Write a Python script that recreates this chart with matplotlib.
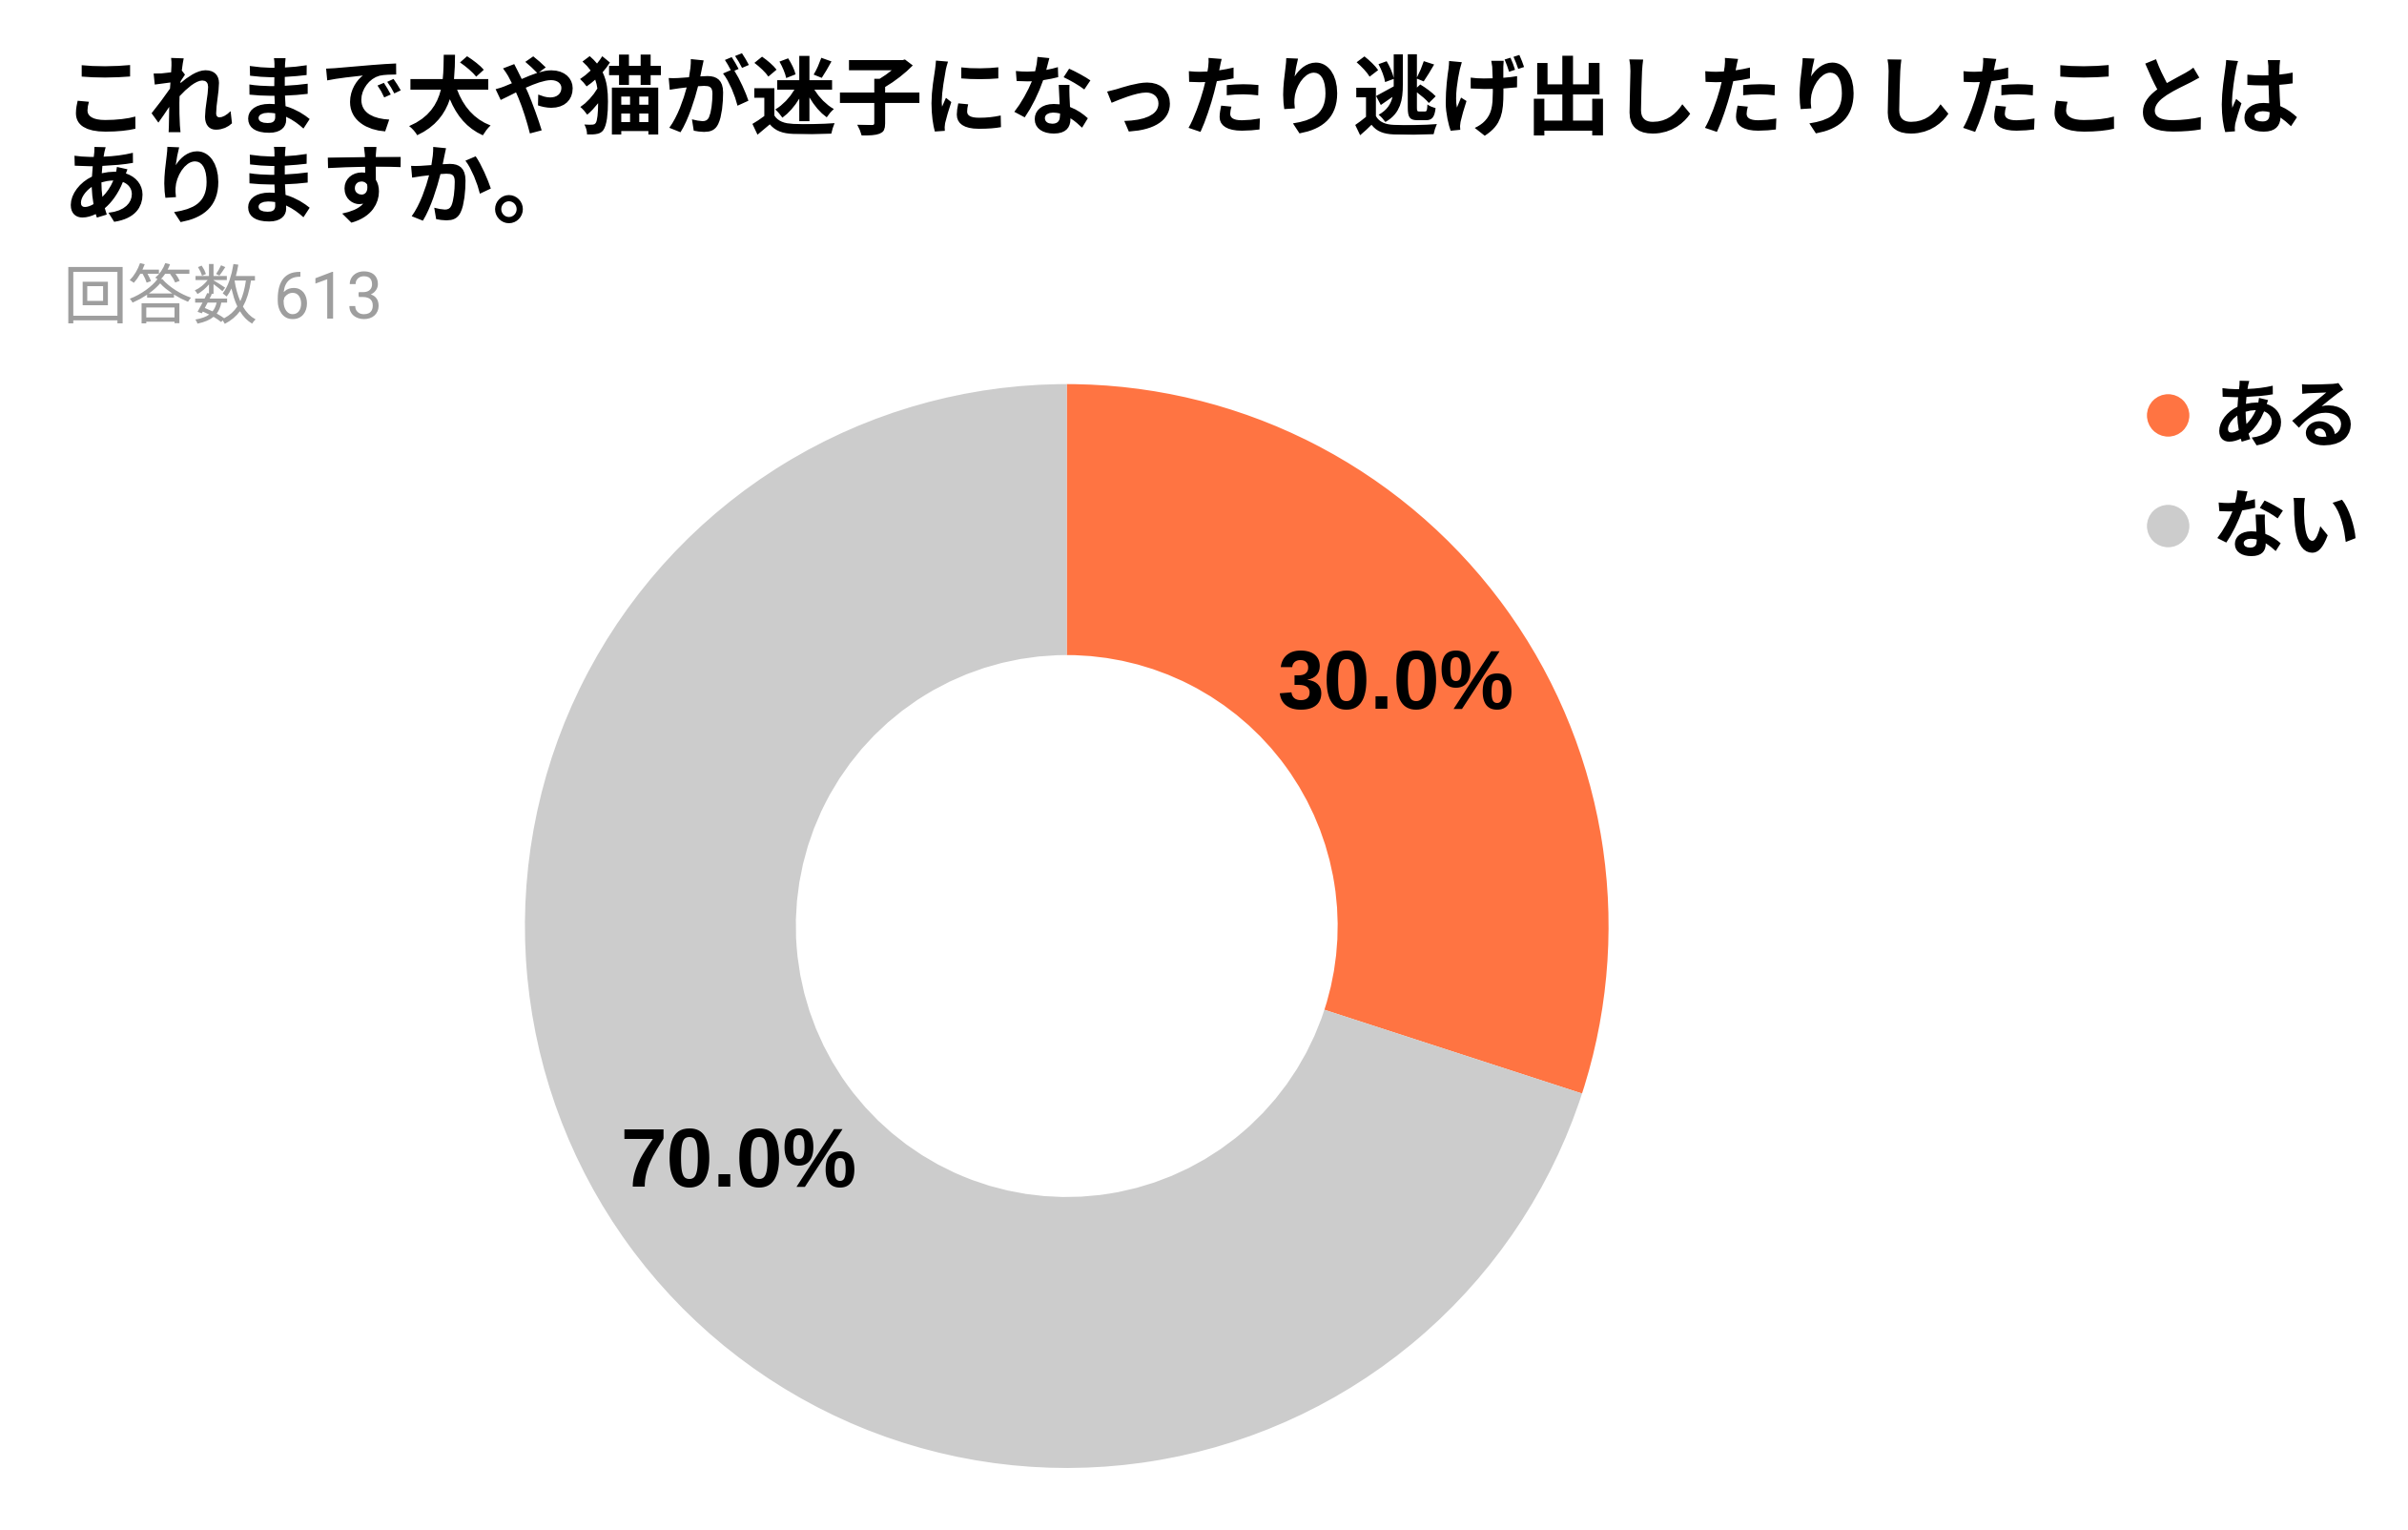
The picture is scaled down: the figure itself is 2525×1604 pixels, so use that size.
import matplotlib
matplotlib.use('Agg')
import matplotlib.pyplot as plt
import numpy as np
from matplotlib.lines import Line2D

plt.rcParams['font.family'] = ['Noto Sans CJK JP', 'DejaVu Sans']

title = 'これまで犬や猫が迷子になったり逃げ出したりしたことは\nありますか。'
subtitle = '回答数 613'
labels = ['ある', 'ない']
values = [30.0, 70.0]
colors = ['#FF7442', '#CCCCCC']


def main():
    fig = plt.figure(figsize=(25.25, 16.04), dpi=100)
    fig.patch.set_facecolor('white')

    fig.text(0.026, 0.962, title, fontsize=65, fontweight='bold',
             va='top', ha='left', linespacing=1.03, color='black')
    fig.text(0.026, 0.804, subtitle, fontsize=49, color='#9E9E9E',
             va='center', ha='left', family=['Roboto', 'Noto Sans CJK JP'])

    # donut, center around (1120, 970) px, radius ~568 px
    ax = fig.add_axes([0.218, 0.0405, 0.4500, 0.7085])
    ax.pie(values, colors=colors, startangle=90, counterclock=False,
           radius=1.0, wedgeprops=dict(width=0.5, linewidth=0))
    ax.set_xlim(-1, 1)
    ax.set_ylim(-1, 1)
    ax.set_aspect('equal')
    ax.axis('off')

    start = 90.0
    for v in values:
        mid = np.deg2rad(start - v / 100 * 360 / 2)
        ax.text(0.75 * np.cos(mid), 0.75 * np.sin(mid), f'{v:.1f}%',
                ha='center', va='center', fontsize=63, fontweight='bold',
                family=['Liberation Sans', 'DejaVu Sans'])
        start -= v / 100 * 360

    handles = [Line2D([0], [0], marker='o', color='none', markerfacecolor=c,
                      markeredgecolor='none', markersize=32) for c in colors]
    fig.legend(handles, labels, loc='upper left', bbox_to_anchor=(0.874, 0.770),
               frameon=False, prop=dict(size=56, weight='bold'),
               handletextpad=0.15, labelspacing=0.46, handlelength=0.9,
               borderaxespad=0)

    fig.savefig('out.png', dpi=100, facecolor='white')


if __name__ == '__main__':
    main()
